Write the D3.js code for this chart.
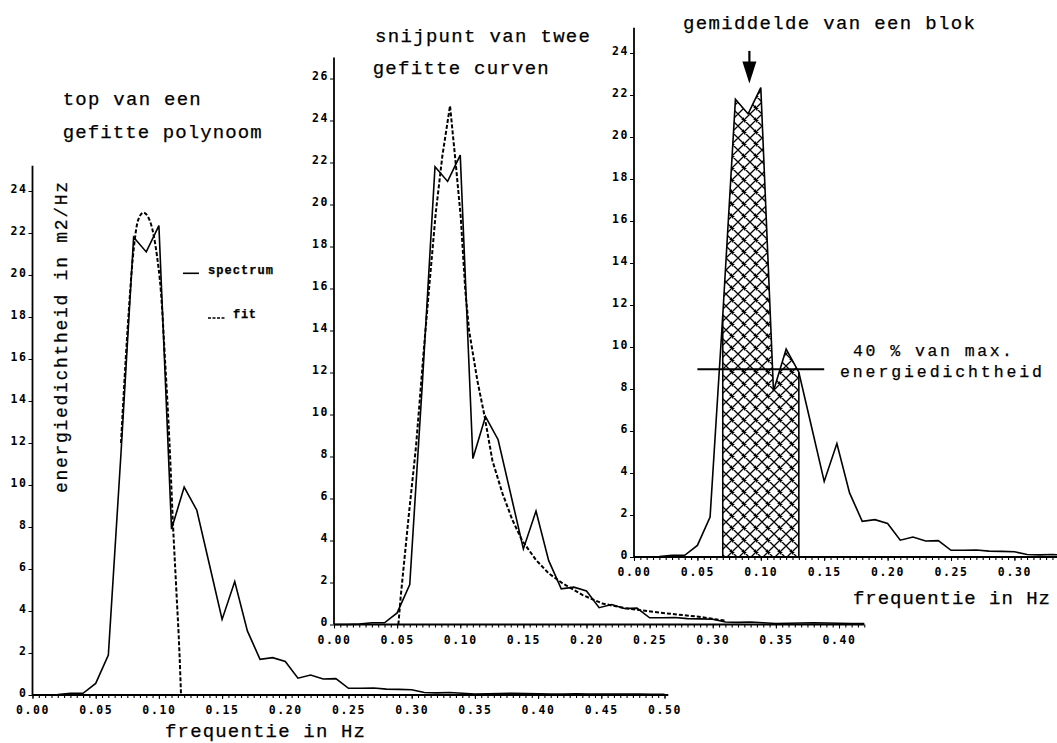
<!DOCTYPE html>
<html>
<head>
<meta charset="utf-8">
<script src="https://cdn.jsdelivr.net/npm/d3@7"></script>
<style>
  body { margin: 0; background: #fff; }
  svg { display: block; }
  .tick text { font-family: "DejaVu Sans Mono", monospace; font-weight: bold; font-size: 11.5px; letter-spacing: 1.6px; fill: #000; }
  .tw { font-family: "Liberation Mono", "DejaVu Sans Mono", monospace; font-size: 19px; fill: #000; stroke: #000; stroke-width: 0.25px; }
</style>
</head>
<body>
<svg id="chart" width="1057" height="743"></svg>
<script>
// Frequency grid (Hz) of the measured wave spectrum
const frequencies = [
  0.00, 0.01, 0.02, 0.03, 0.04, 0.05, 0.06, 0.07, 0.08, 0.09,
  0.10, 0.11, 0.12, 0.13, 0.14, 0.15, 0.16, 0.17, 0.18, 0.19,
  0.20, 0.21, 0.22, 0.23, 0.24, 0.25, 0.26, 0.27, 0.28, 0.29,
  0.30, 0.31, 0.32, 0.33, 0.34, 0.35, 0.36, 0.37, 0.38, 0.39,
  0.40, 0.41, 0.42, 0.43, 0.44, 0.45, 0.46, 0.47, 0.48, 0.49, 0.50
];
// Energy density (m2/Hz) at each frequency
const spectrum = [
  0.00, 0.00, 0.02, 0.08, 0.08, 0.55, 1.90, 11.5, 21.8, 21.1,
  22.35, 7.90, 9.90, 8.80, 6.20, 3.60, 5.40, 3.05, 1.70, 1.78,
  1.60, 0.80, 0.95, 0.76, 0.78, 0.32, 0.32, 0.33, 0.28, 0.27,
  0.25, 0.12, 0.10, 0.12, 0.08, 0.05, 0.06, 0.07, 0.08, 0.07,
  0.06, 0.05, 0.05, 0.06, 0.05, 0.04, 0.05, 0.04, 0.04, 0.03, 0.03
];

// Polynomial fitted to the spectral top
const polyFitFreq  = [0.070, 0.075, 0.080, 0.0835, 0.0878, 0.092, 0.0955, 0.0985, 0.1016, 0.105, 0.1083, 0.111, 0.1137, 0.1163, 0.1175];
const polyFitValue = [12.0, 17.2, 21.2, 22.6, 22.97, 22.7, 22.0, 20.9, 19.2, 15.8, 12.1, 8.3, 5.1, 1.95, 0.0];

// Two fitted curves (rising flank and decaying tail) meeting at their intersection
const curveFitFreq  = [0.051, 0.0528, 0.0594, 0.065, 0.0713, 0.0753, 0.0806, 0.0858, 0.0919,
                       0.0965, 0.1004, 0.104, 0.107, 0.1136, 0.119, 0.1255, 0.1334, 0.1413, 0.149,
                       0.160, 0.170, 0.181, 0.197, 0.2126, 0.231, 0.263, 0.289, 0.302, 0.310];
const curveFitValue = [0.0, 1.3, 5.3, 8.5, 13.2, 16.0, 19.6, 22.3, 24.7,
                       21.9, 19.4, 15.9, 14.0, 11.6, 10.0, 7.8, 6.25, 4.98, 4.0,
                       3.07, 2.44, 1.96, 1.4, 1.0, 0.77, 0.53, 0.37, 0.25, 0.18];

// Block used for the mean frequency
const blockRange = [0.07, 0.13];
const blockMean = 0.091;
const thresholdRange = [0.05, 0.15];
const thresholdFraction = 0.4;

// Tick labels
const yTicksA = [0, 2, 4, 6, 8, 10, 12, 14, 16, 18, 20, 22, 24];
const yTicksB = [0, 2, 4, 6, 8, 10, 12, 14, 16, 18, 20, 22, 24, 26];
const yTicksC = [0, 2, 4, 6, 8, 10, 12, 14, 16, 18, 20, 22, 24];
const xTicksA = [0.00, 0.05, 0.10, 0.15, 0.20, 0.25, 0.30, 0.35, 0.40, 0.45, 0.50];
const xTicksB = [0.00, 0.05, 0.10, 0.15, 0.20, 0.25, 0.30, 0.35, 0.40];
const xTicksC = [0.00, 0.05, 0.10, 0.15, 0.20, 0.25, 0.30];

const svg = d3.select("#chart");
const defs = svg.append("defs");

// cross-hatch fill
const pat = defs.append("pattern")
  .attr("id", "hatch").attr("patternUnits", "userSpaceOnUse")
  .attr("width", 12).attr("height", 12);
pat.append("path")
  .attr("d", "M-1,-1 L13,13 M13,-1 L-1,13 M-7,5 L5,-7 M7,-5 L-5,7 M7,17 L17,7 M5,17 L17,5")
  .attr("stroke", "#000").attr("stroke-width", 1.3).attr("fill", "none");

const specPts = frequencies.map((f, i) => ({ f, v: spectrum[i] }));
const polyPts = polyFitFreq.map((f, i) => ({ f, v: polyFitValue[i] }));
const curvPts = curveFitFreq.map((f, i) => ({ f, v: curveFitValue[i] }));

function makePanel(cfg) {
  const g = svg.append("g");
  const x = d3.scaleLinear().domain([0, cfg.xMax]).range(cfg.xRange);
  const y = d3.scaleLinear().domain([0, cfg.yMax]).range(cfg.yRange);

  // minor ticks every 0.005 Hz under the frequency axis
  const minor = d3.range(0, cfg.xEnd + 1e-9, 0.005);
  g.append("g").attr("transform", `translate(0,${y(0)})`)
    .call(d3.axisBottom(x).tickValues(minor).tickSize(3).tickFormat(""))
    .call(s => s.select(".domain").remove())
    .call(s => s.selectAll("line").attr("stroke-width", 1.1));

  // labelled frequency ticks
  g.append("g").attr("transform", `translate(0,${y(0)})`)
    .call(d3.axisBottom(x).tickValues(cfg.xTicks).tickSize(4).tickPadding(5).tickFormat(d3.format(".2f")))
    .call(s => s.select(".domain").remove())
    .call(s => s.selectAll("text").attr("dy", "0.9em"));

  // energy density ticks
  g.append("g").attr("transform", `translate(${x(0)},0)`)
    .call(d3.axisLeft(y).tickValues(cfg.yTicks).tickSize(4).tickPadding(1).tickFormat(d3.format("d")))
    .call(s => s.select(".domain").remove())
    .call(s => s.selectAll("text").attr("dy", "1").attr("text-anchor", "end"));

  // axis lines
  g.append("line").attr("x1", x(0)).attr("x2", x(0)).attr("y1", y(0)).attr("y2", y(cfg.yTop))
    .attr("stroke", "#000").attr("stroke-width", 1.8);
  g.append("line").attr("x1", x(0)).attr("x2", x(cfg.xEnd)).attr("y1", y(0)).attr("y2", y(0))
    .attr("stroke", "#000").attr("stroke-width", 1.8);

  return { g, x, y };
}

function spectrumLine(p, xEnd) {
  const line = d3.line().x(d => p.x(d.f)).y(d => p.y(d.v));
  p.g.append("path").datum(specPts.filter(d => d.f <= xEnd + 1e-9))
    .attr("d", line).attr("fill", "none").attr("stroke", "#000")
    .attr("stroke-width", 1.6).attr("stroke-linejoin", "miter");
}

function typeText(x, yb, str, len, opts = {}) {
  const t = svg.append("text").attr("class", "tw")
    .attr("x", x).attr("y", yb).text(str)
    .attr("textLength", len).attr("lengthAdjust", "spacing");
  if (opts.size) t.style("font-size", opts.size + "px");
  if (opts.weight) t.style("font-weight", opts.weight);
  return t;
}

// ---------- Panel A: top of a fitted polynomial ----------
const A = makePanel({ xMax: 0.5, xRange: [32.5, 664.5], yMax: 24, yRange: [695, 191],
  xEnd: 0.503, yTop: 25.2, xTicks: xTicksA, yTicks: yTicksA });
spectrumLine(A, 0.50);
A.g.append("path").datum(polyPts)
  .attr("d", d3.line().curve(d3.curveMonotoneX).x(d => A.x(d.f)).y(d => A.y(d.v)))
  .attr("fill", "none").attr("stroke", "#000").attr("stroke-width", 2)
  .attr("stroke-dasharray", "4,2");

typeText(62.7, 105, "top van een", 138);
typeText(62.7, 138, "gefitte polynoom", 199);
typeText(165, 737, "frequentie in Hz", 200);
svg.append("text").attr("class", "tw")
  .attr("transform", "translate(66.5,337.5) rotate(-90)")
  .attr("text-anchor", "middle").attr("textLength", 311).attr("lengthAdjust", "spacing")
  .style("font-size", "18px")
  .text("energiedichtheid in m2/Hz");

// legend
svg.append("line").attr("x1", 183).attr("x2", 199).attr("y1", 273.3).attr("y2", 273.3)
  .attr("stroke", "#000").attr("stroke-width", 1.6);
typeText(208, 274, "spectrum", 65, { size: 12, weight: "bold" });
svg.append("line").attr("x1", 208).attr("x2", 225).attr("y1", 318).attr("y2", 318)
  .attr("stroke", "#000").attr("stroke-width", 1.6).attr("stroke-dasharray", "3,1.5");
typeText(233, 318, "fit", 23, { size: 12, weight: "bold" });

// ---------- Panel B: intersection of two fitted curves ----------
const B = makePanel({ xMax: 0.4, xRange: [334, 839], yMax: 26, yRange: [624.5, 78.5],
  xEnd: 0.42, yTop: 27, xTicks: xTicksB, yTicks: yTicksB });
spectrumLine(B, 0.42);
B.g.append("path").datum(curvPts)
  .attr("d", d3.line().x(d => B.x(d.f)).y(d => B.y(d.v)))
  .attr("fill", "none").attr("stroke", "#000").attr("stroke-width", 2)
  .attr("stroke-dasharray", "4,2");

typeText(375, 41.7, "snijpunt van twee", 215);
typeText(372.7, 74, "gefitte curven", 176);

// ---------- Panel C: mean of a block ----------
const C = makePanel({ xMax: 0.3, xRange: [634, 1014.4], yMax: 24, yRange: [557, 53],
  xEnd: 0.34, yTop: 25.2, xTicks: xTicksC, yTicks: yTicksC });

const blockPts = specPts.filter(d => d.f >= blockRange[0] - 1e-9 && d.f <= blockRange[1] + 1e-9);
C.g.append("path").datum(blockPts)
  .attr("d", d3.area().x(d => C.x(d.f)).y0(C.y(0)).y1(d => C.y(d.v)))
  .attr("fill", "url(#hatch)").attr("stroke", "none");
[blockPts[0], blockPts[blockPts.length - 1]].forEach(d => {
  C.g.append("line").attr("x1", C.x(d.f)).attr("x2", C.x(d.f))
    .attr("y1", C.y(0)).attr("y2", C.y(d.v))
    .attr("stroke", "#000").attr("stroke-width", 1.6);
});
spectrumLine(C, 0.34);

// 40 % threshold line
const threshold = thresholdFraction * d3.max(spectrum);
C.g.append("line").attr("x1", C.x(thresholdRange[0])).attr("x2", C.x(thresholdRange[1]))
  .attr("y1", C.y(threshold)).attr("y2", C.y(threshold))
  .attr("stroke", "#000").attr("stroke-width", 2);

// arrow marking the mean frequency of the block
const ax = C.x(blockMean);
C.g.append("line").attr("x1", ax).attr("x2", ax).attr("y1", C.y(24.1)).attr("y2", C.y(23.2))
  .attr("stroke", "#000").attr("stroke-width", 2.2);
C.g.append("path")
  .attr("d", `M${ax - 7},${C.y(23.6)} L${ax + 7},${C.y(23.6)} L${ax},${C.y(22.55)} Z`)
  .attr("fill", "#000");

typeText(683, 29.3, "gemiddelde van een blok", 292);
typeText(853, 356, "40 % van max.", 159, { size: 16.5 });
typeText(840, 377, "energiedichtheid", 202, { size: 16.5 });
typeText(853, 604, "frequentie in Hz", 197);
</script>
</body>
</html>
